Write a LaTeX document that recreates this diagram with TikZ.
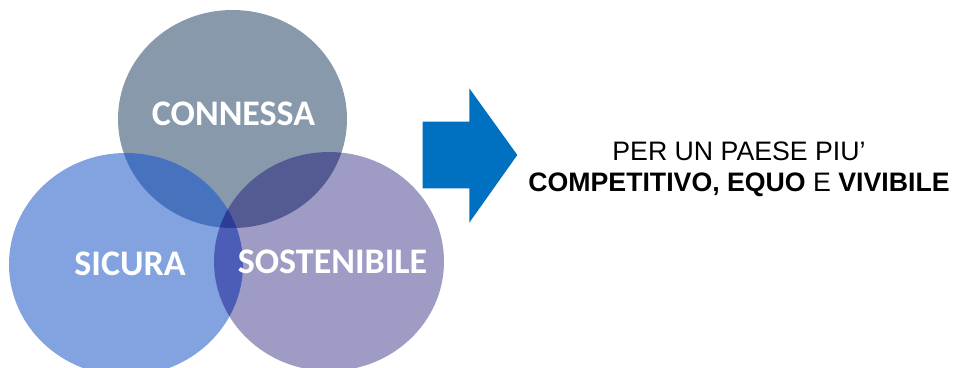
\documentclass[tikz,border=0pt]{standalone}
\usepackage{fontspec}
\setmainfont{Liberation Sans}
\newfontfamily\labelfont{Carlito}
\definecolor{ctop}{HTML}{8899AB}
\definecolor{cleft}{HTML}{82A2E0}
\definecolor{cright}{HTML}{9E9CC5}
\definecolor{cTL}{HTML}{4672BE}
\definecolor{cTR}{HTML}{535B92}
\definecolor{cLR}{HTML}{4B5DB7}
\definecolor{cC}{HTML}{2C3D98}
\definecolor{arrowblue}{HTML}{0070C0}
\tikzset{
  circlabel/.style={anchor=base, inner sep=0pt, text=white, font=\labelfont\bfseries\fontsize{36}{40}\selectfont},
  sidetext/.style={anchor=base, inner sep=0pt, text=black, font=\fontsize{26.7}{30}\selectfont},
  topell/.style={},
}
\begin{document}
\begin{tikzpicture}[x=1pt,y=-1pt]
\useasboundingbox (0,0) rectangle (955,367);
\clip (0,0) rectangle (955,367);
\coordinate (ct) at (232.5,119);
\coordinate (cl) at (126,264.4);
\coordinate (cr) at (329,261.5);
\def\topE{(ct) ellipse [x radius=114.5pt, y radius=109pt]}
\def\leftE{(cl) ellipse [x radius=117pt, y radius=111.4pt]}
\def\rightE{(cr) ellipse [x radius=115pt, y radius=109.5pt]}
\fill[ctop] \topE;
\fill[cleft] \leftE;
\fill[cright] \rightE;
\begin{scope}\clip \topE; \fill[cTL] \leftE; \end{scope}
\begin{scope}\clip \topE; \fill[cTR] \rightE; \end{scope}
\begin{scope}\clip \leftE; \fill[cLR] \rightE; \end{scope}
\begin{scope}\clip \topE; \clip \leftE; \fill[cC] \rightE; \end{scope}
\node[circlabel] (lconn) at (233.5,125) {CONNESSA};
\node[circlabel] (lsic) at (130,275) {SICURA};
\node[circlabel] (lsost) at (332.5,273) {SOSTENIBILE};
\fill[arrowblue] (422.7,121.7) -- (469.3,121.7) -- (469.3,88.3) -- (517.3,155)
  -- (469.3,222.7) -- (469.3,188.3) -- (422.7,188.3) -- cycle;
\node[sidetext] (line1) at (739,160) {PER UN PAESE PIU’};
\node[sidetext] (line2) at (739,191.7) {\textbf{COMPETITIVO,} \textbf{EQUO} E \textbf{VIVIBILE}};
\end{tikzpicture}
\end{document}
